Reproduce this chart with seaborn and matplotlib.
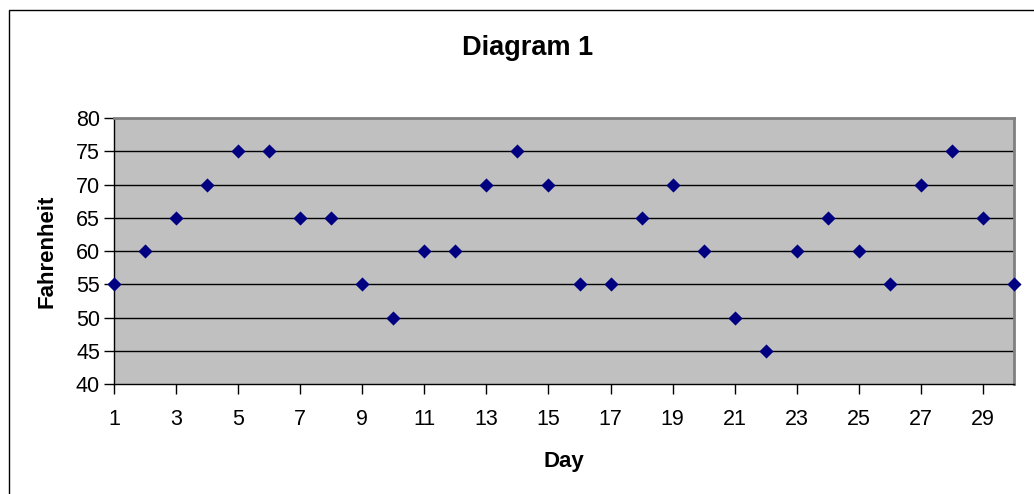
import matplotlib
matplotlib.use("Agg")
import matplotlib.pyplot as plt
import seaborn as sns
import pandas as pd
from matplotlib.patches import Rectangle

days = list(range(1, 31))
fahrenheit = [55, 60, 65, 70, 75, 75, 65, 65, 55, 50,
              60, 60, 70, 75, 70, 55, 55, 65, 70, 60,
              50, 45, 60, 65, 60, 55, 70, 75, 65, 55]
x_ticks = list(range(1, 31, 2))
y_ticks = list(range(40, 81, 5))

sns.set_theme(style="white")
plt.rcParams['font.family'] = ['Liberation Sans', 'DejaVu Sans']

df = pd.DataFrame({"Day": days, "Fahrenheit": fahrenheit})

W, H = 1034, 494
fig = plt.figure(figsize=(W / 100, H / 100), dpi=100)
fig.patch.set_facecolor("white")
ax = fig.add_axes([114 / W, 1 - 384 / H, 900 / W, 266 / H])
ax.set_facecolor("#c0c0c0")

for yv in y_ticks[1:-1]:
    ax.axhline(yv, color="black", linewidth=1.0, zorder=1)

sns.scatterplot(data=df, x="Day", y="Fahrenheit", marker="D", s=52,
                color="#000080", linewidth=0, ax=ax, zorder=3, clip_on=False)

ax.set_xlim(1, 30)
ax.set_ylim(40, 80)
ax.set_xticks(x_ticks)
ax.set_yticks(y_ticks)
ax.tick_params(axis="both", direction="out", length=7, width=1, color="black",
               labelsize=15.5, labelcolor="black", bottom=True, left=True)
ax.tick_params(axis="x", pad=11)
ax.tick_params(axis="y", pad=3)

for side in ["left", "bottom"]:
    ax.spines[side].set_color("black")
    ax.spines[side].set_linewidth(1.0)
for side in ["top", "right"]:
    ax.spines[side].set_color("#808080")
    ax.spines[side].set_linewidth(2.0)

ax.set_xlabel("Day", fontsize=16, fontweight="bold", color="black", labelpad=15)
ax.set_ylabel("Fahrenheit", fontsize=16, fontweight="bold", color="black", labelpad=13)
fig.text(528 / W, 1 - 48 / H, "Diagram 1", fontsize=19.5, fontweight="bold",
         ha="center", va="center", color="black")

frame = Rectangle((8.5 / W, -0.1), 1.2, 1 - 10.5 / H + 0.1, transform=fig.transFigure,
                  fill=False, edgecolor="black", linewidth=1.0)
fig.patches.append(frame)

fig.savefig("out.png", dpi=100, facecolor="white")
